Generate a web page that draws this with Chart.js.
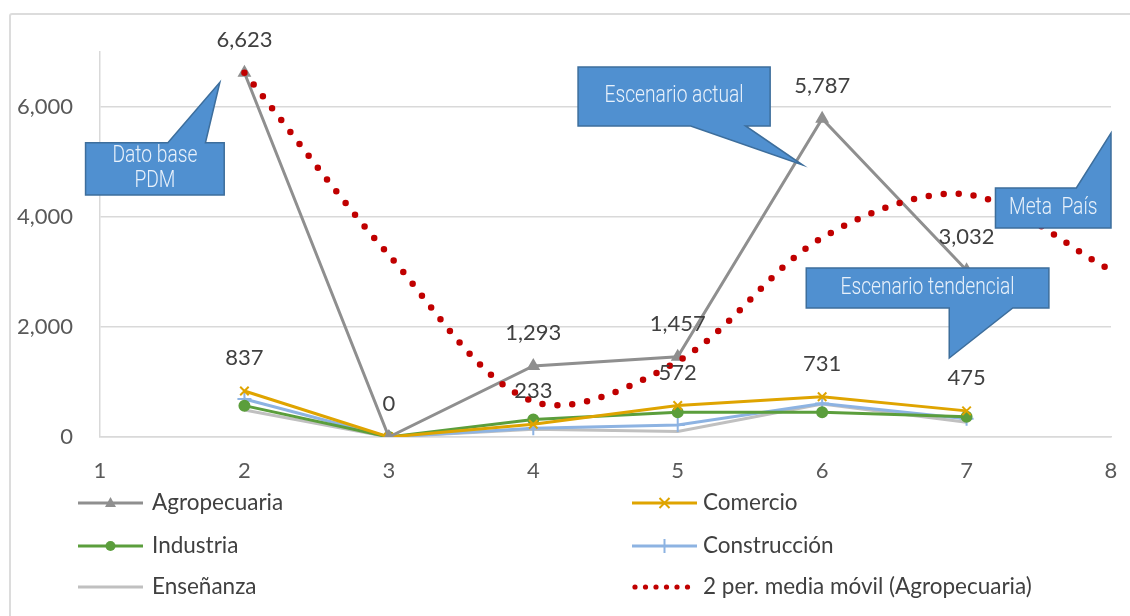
<!DOCTYPE html>
<html lang="es">
<head>
<meta charset="utf-8">
<title>Agropecuaria - escenarios</title>
<script src="https://cdn.jsdelivr.net/npm/chart.js"></script>
<style>
  body { margin: 0; background: #fff; }
  #wrap { position: relative; width: 1130px; height: 616px; overflow: hidden; }
  #frame { position: absolute; left: 9px; top: 13px; width: 1130px; height: 620px;
           border: 2px solid #dcdcdc; border-radius: 3px; pointer-events: none; }
</style>
</head>
<body>
<div id="wrap">
  <canvas id="grafico"></canvas>
  <div id="frame"></div>
</div>
<script>
// datos
const periodos = ['1', '2', '3', '4', '5', '6', '7', '8'];
const agropecuaria = [null, 6623, 0, 1293, 1457, 5787, 3032, null];
const comercio = [null, 837, 0, 233, 572, 731, 475, null];
const industria = [null, 570, 0, 320, 450, 450, 370, null];
const construccion = [null, 690, 0, 160, 220, 610, 330, null];
const ensenanza = [null, 490, 0, 140, 100, 600, 270, null];
const mediaMovil = [null, 6623, 3311, 646, 1375, 3622, 4410, 3030];
const yTicks = [0, 2000, 4000, 6000];

// globos de texto (x en indice de categoria, y en valor)
const globos = [
  { texto: ['Dato base', 'PDM'], box: [-0.10, 0.86, 5350, 4400], lado: 'top', base: [0.47, 0.73], punta: [0.83, 6450] },
  { texto: ['Escenario actual'], box: [3.31, 4.64, 6727, 5655], lado: 'bottom', base: [4.09, 4.47], punta: [4.865, 4945] },
  { texto: ['Meta  País'], box: [6.20, 7.0, 4527, 3800], lado: 'top', base: [6.76, 7.0], punta: [7.0, 5527] },
  { texto: ['Escenario tendencial'], box: [4.89, 6.57, 3073, 2345], lado: 'bottom', base: [5.88, 6.32], punta: [5.88, 1436] }
];

const GRIS = '#8f8f8f', ORO = '#dfa400', VERDE = '#5b9e3c', AZUL = '#8db3e2', GRIS2 = '#c0c0c0', ROJO = '#c00000';

Chart.defaults.font.family = 'Lato, sans-serif';
Chart.defaults.font.size = 22;
Chart.defaults.color = '#595959';

function marcador(ctx, tipo, x, y, color) {
  ctx.save();
  ctx.fillStyle = color; ctx.strokeStyle = color; ctx.lineWidth = 2;
  ctx.beginPath();
  if (tipo === 'triangle') {
    ctx.moveTo(x, y - 6); ctx.lineTo(x + 5.5, y + 4); ctx.lineTo(x - 5.5, y + 4); ctx.closePath(); ctx.fill();
  } else if (tipo === 'circle') {
    ctx.arc(x, y, 5, 0, Math.PI * 2); ctx.fill();
  } else if (tipo === 'crossRot') {
    ctx.moveTo(x - 5, y - 5); ctx.lineTo(x + 5, y + 5); ctx.moveTo(x + 5, y - 5); ctx.lineTo(x - 5, y + 5); ctx.stroke();
  } else if (tipo === 'cross') {
    ctx.moveTo(x, y - 7); ctx.lineTo(x, y + 7); ctx.moveTo(x - 6, y); ctx.lineTo(x + 6, y); ctx.stroke();
  }
  ctx.restore();
}

const extras = {
  id: 'extras',
  afterDatasetsDraw(chart) {
    const ctx = chart.ctx;
    ctx.save();
    ctx.font = '22px Lato, sans-serif';
    ctx.fillStyle = '#404040';
    ctx.textAlign = 'center';
    ctx.textBaseline = 'middle';
    // etiquetas de Agropecuaria y Comercio
    chart.data.datasets.forEach((ds, di) => {
      if (!ds.conEtiquetas) return;
      const meta = chart.getDatasetMeta(di);
      ds.data.forEach((v, i) => {
        if (v === null) return;
        if (v === 0 && ds.omitirCero) return; // el "0" ya lo pone Agropecuaria
        const pt = meta.data[i];
        ctx.fillText(v.toLocaleString('en-US'), pt.x, pt.y - 33);
      });
    });
    ctx.restore();
  },
  afterDraw(chart) {
    const ctx = chart.ctx;
    const xs = chart.scales.x, ys = chart.scales.y;
    ctx.save();
    globos.forEach(g => {
      const x1 = xs.getPixelForValue(g.box[0]), x2 = xs.getPixelForValue(g.box[1]);
      const y1 = ys.getPixelForValue(g.box[2]), y2 = ys.getPixelForValue(g.box[3]);
      const b1 = xs.getPixelForValue(g.base[0]), b2 = xs.getPixelForValue(g.base[1]);
      const tx = xs.getPixelForValue(g.punta[0]), ty = ys.getPixelForValue(g.punta[1]);
      ctx.beginPath();
      if (g.lado === 'top') {
        ctx.moveTo(x1, y1); ctx.lineTo(b1, y1); ctx.lineTo(tx, ty); ctx.lineTo(b2, y1);
        ctx.lineTo(x2, y1); ctx.lineTo(x2, y2); ctx.lineTo(x1, y2);
      } else {
        ctx.moveTo(x1, y1); ctx.lineTo(x2, y1); ctx.lineTo(x2, y2); ctx.lineTo(b2, y2);
        ctx.lineTo(tx, ty); ctx.lineTo(b1, y2); ctx.lineTo(x1, y2);
      }
      ctx.closePath();
      ctx.fillStyle = '#5090d0';
      ctx.fill();
      ctx.strokeStyle = '#3d6e9c';
      ctx.lineWidth = 1.5;
      ctx.stroke();
      // texto estrecho, como la fuente condensada del original
      ctx.fillStyle = '#e8f1fb';
      ctx.font = '300 24px "Liberation Sans Narrow", Roboto, sans-serif';
      ctx.textAlign = 'center';
      ctx.textBaseline = 'middle';
      const cx = (x1 + x2) / 2, cy = (y1 + y2) / 2, lh = 25;
      g.texto.forEach((t, k) => {
        ctx.save();
        ctx.translate(cx, cy + (k - (g.texto.length - 1) / 2) * lh);
        ctx.scale(0.8, 1);
        ctx.fillText(t, 0, 0);
        ctx.restore();
      });
    });

    // leyenda en dos columnas
    const filas = [503, 546, 587];
    const cols = [{ x0: 78, x1: 143, tx: 152 }, { x0: 632, x1: 697, tx: 703 }];
    const items = [
      { t: 'Agropecuaria', c: GRIS, m: 'triangle', col: 0, fila: 0 },
      { t: 'Comercio', c: ORO, m: 'crossRot', col: 1, fila: 0 },
      { t: 'Industria', c: VERDE, m: 'circle', col: 0, fila: 1 },
      { t: 'Construcción', c: AZUL, m: 'cross', col: 1, fila: 1 },
      { t: 'Enseñanza', c: GRIS2, m: null, col: 0, fila: 2 },
      { t: '2 per. media móvil (Agropecuaria)', c: ROJO, m: 'dots', col: 1, fila: 2 }
    ];
    items.forEach(it => {
      const c = cols[it.col], y = filas[it.fila];
      if (it.m === 'dots') {
        ctx.fillStyle = it.c;
        for (let x = c.x0 + 3; x <= c.x1; x += 10.5) {
          ctx.beginPath(); ctx.arc(x, y, 2.6, 0, Math.PI * 2); ctx.fill();
        }
      } else {
        ctx.strokeStyle = it.c; ctx.lineWidth = 3;
        ctx.beginPath(); ctx.moveTo(c.x0, y); ctx.lineTo(c.x1, y); ctx.stroke();
        if (it.m) marcador(ctx, it.m, (c.x0 + c.x1) / 2, y, it.c);
      }
      ctx.fillStyle = '#404040';
      ctx.font = '22.5px Lato, sans-serif';
      ctx.textAlign = 'left';
      ctx.textBaseline = 'middle';
      ctx.fillText(it.t, c.tx, y);
    });
    ctx.restore();
  }
};

function serie(label, data, color, estilo, orden, extra) {
  return Object.assign({
    label: label, data: data, borderColor: color, backgroundColor: color,
    borderWidth: 3, pointStyle: estilo, pointRadius: estilo ? 5 : 0,
    pointBorderColor: color, pointBackgroundColor: color, pointBorderWidth: 2,
    tension: 0, order: orden
  }, extra || {});
}

new Chart(document.getElementById('grafico'), {
  type: 'line',
  data: {
    labels: periodos,
    datasets: [
      serie('2 per. media móvil (Agropecuaria)', mediaMovil, ROJO, false, 0,
        { borderWidth: 6.5, borderDash: [0, 15], borderCapStyle: 'round', tension: 0.33, pointRadius: 0 }),
      serie('Agropecuaria', agropecuaria, GRIS, 'triangle', 1, { conEtiquetas: true, pointRadius: 6 }),
      serie('Comercio', comercio, ORO, 'crossRot', 2, { conEtiquetas: true, omitirCero: true, pointRadius: 6 }),
      serie('Industria', industria, VERDE, 'circle', 3),
      serie('Construcción', construccion, AZUL, 'cross', 4, { pointRadius: 7 }),
      serie('Enseñanza', ensenanza, GRIS2, false, 5)
    ]
  },
  options: {
    responsive: true,
    maintainAspectRatio: false,
    animation: false,
    layout: { autoPadding: false, padding: { top: 52, right: 19, left: 0, bottom: 0 } },
    plugins: { legend: { display: false }, tooltip: { enabled: false } },
    scales: {
      x: {
        offset: false,
        grid: { display: false, drawTicks: false },
        border: { color: '#d9d9d9', width: 1.5 },
        ticks: { padding: 21, maxRotation: 0, autoSkip: false },
        afterFit(scale) {
          scale.height = 179;
          scale.paddingLeft = 0;
          scale.paddingRight = 0;
        }
      },
      y: {
        min: 0,
        max: 7000,
        afterBuildTicks(scale) { scale.ticks = yTicks.map(v => ({ value: v })); },
        grid: { color: '#d9d9d9', lineWidth: 1.5, drawTicks: false },
        border: { color: '#d9d9d9', width: 1.5 },
        ticks: { padding: 27, callback: v => v.toLocaleString('en-US') },
        afterFit(scale) { scale.width = 100; }
      }
    }
  },
  plugins: [extras]
});
</script>
</body>
</html>
